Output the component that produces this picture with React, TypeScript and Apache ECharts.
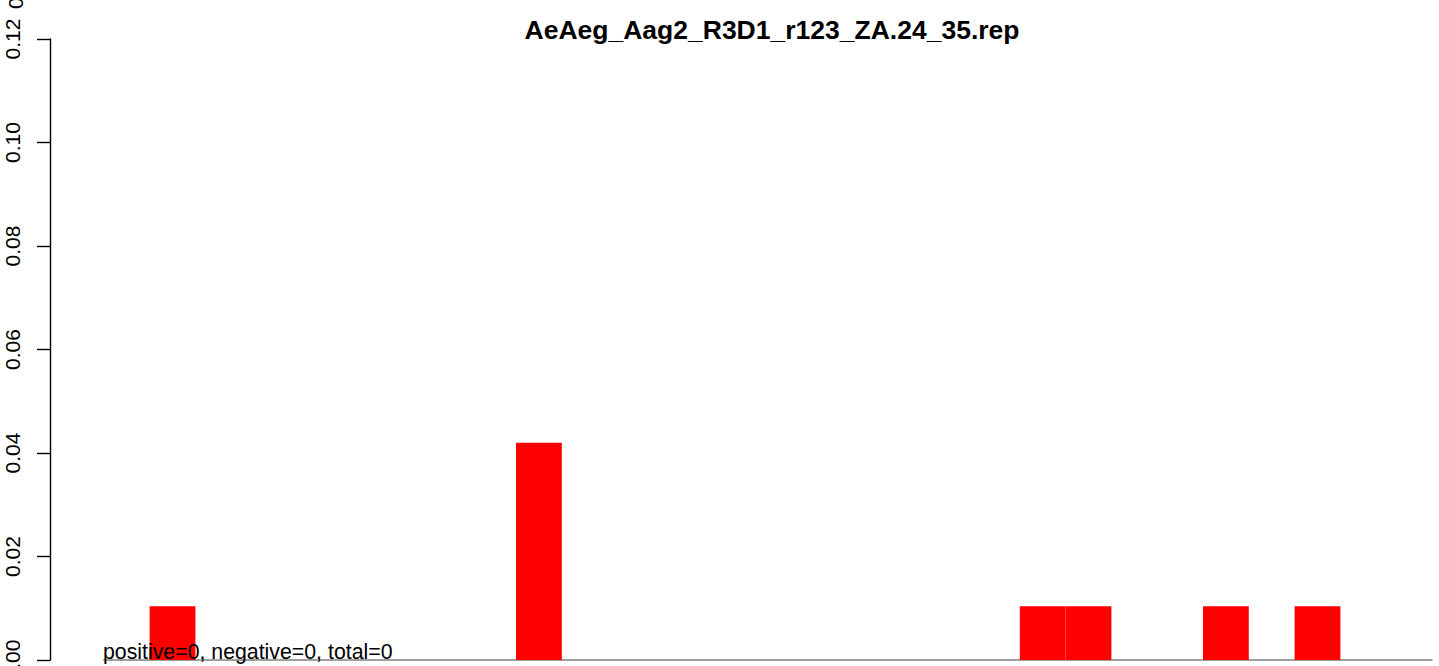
import React, { useEffect, useRef } from "react";
import * as echarts from "echarts";

const TITLE = "AeAeg_Aag2_R3D1_r123_ZA.24_35.rep";
const NOTE = "positive=0, negative=0, total=0";
const CATEGORIES = Array.from({ length: 29 }, (_, i) => String(i + 1));
const VALUES = [
  0, 0.0104, 0, 0, 0, 0, 0, 0, 0, 0.042,
  0, 0, 0, 0, 0, 0, 0, 0, 0, 0,
  0.0104, 0.0104, 0, 0, 0.0104, 0, 0.0104, 0, 0,
];
const Y_MIN = 0;
const Y_MAX = 0.12;
const Y_STEP = 0.02;

const FONT = "'Liberation Sans', Arial, Helvetica, sans-serif";

export default function App() {
  const ref = useRef<HTMLDivElement>(null);
  useEffect(() => {
    if (!ref.current) return;
    const chart = echarts.init(ref.current, null, { renderer: "svg" });
    const gridLeft = 103.8;
    chart.setOption({
      animation: false,
      backgroundColor: "#ffffff",
      title: {
        text: TITLE,
        left: 767,
        top: 11,
        textAlign: "center",
        textStyle: { fontFamily: FONT, fontSize: 26.5, fontWeight: "bold", color: "#000" },
      },
      grid: {
        left: gridLeft,
        right: 7,
        top: 39,
        bottom: 6,
        containLabel: false,
        outerBoundsMode: "none",
      },
      xAxis: {
        type: "category",
        data: CATEGORIES,
        boundaryGap: true,
        axisLine: { show: true, lineStyle: { color: "#808080", width: 1.5 } },
        axisTick: { show: false },
        axisLabel: { show: false },
        splitLine: { show: false },
      },
      yAxis: {
        type: "value",
        min: Y_MIN,
        max: Y_MAX,
        interval: Y_STEP,
        offset: gridLeft - 50,
        axisLine: { show: true, onZero: false, lineStyle: { color: "#000", width: 1.4 } },
        axisTick: { show: true, length: 13, lineStyle: { color: "#000", width: 1.4 } },
        splitLine: { show: false },
        axisLabel: {
          rotate: 90,
          margin: 27,
          fontFamily: FONT,
          fontSize: 21,
          color: "#000",
          showMinLabel: true,
          showMaxLabel: true,
          hideOverlap: false,
          formatter: (v: number) => v.toFixed(2),
        },
      },
      series: [
        {
          type: "bar",
          data: VALUES,
          barWidth: "100%",
          barCategoryGap: "0%",
          itemStyle: { color: "#ff0000" },
          silent: true,
        },
      ],
      graphic: [
        {
          type: "text",
          x: 103,
          y: 651.5,
          style: {
            text: NOTE,
            fontFamily: FONT,
            fontSize: 21.3,
            fill: "#000",
            textAlign: "left",
            textVerticalAlign: "middle",
          },
          z: 10,
        },
        {
          type: "text",
          x: 26,
          y: 9,
          rotation: Math.PI / 2,
          style: {
            text: "0",
            fontFamily: FONT,
            fontSize: 21,
            fill: "#000",
            textAlign: "left",
            textVerticalAlign: "bottom",
          },
        },
      ],
    });
    return () => chart.dispose();
  }, []);
  return (
    <div
      ref={ref}
      style={{ position: "absolute", left: 0, top: 0, width: 1439, height: 666, overflow: "hidden" }}
    />
  );
}
